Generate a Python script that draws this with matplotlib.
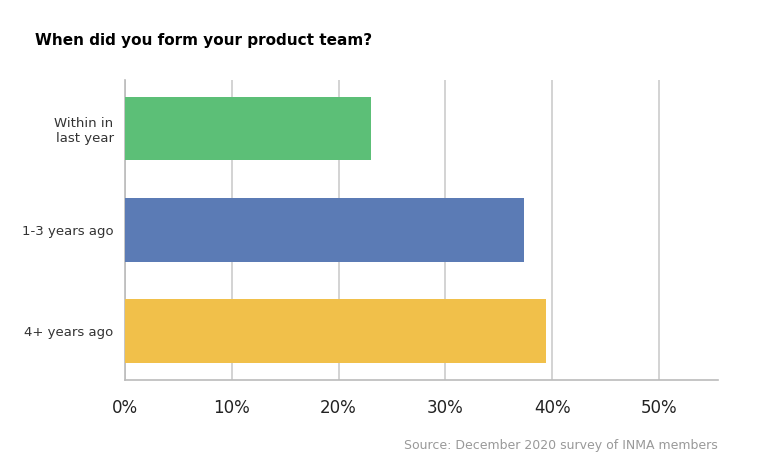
import matplotlib.pyplot as plt

# Data
categories = ['Within in\nlast year', '1-3 years ago', '4+ years ago']
values = [23.0, 37.3, 39.4]
colors = ['#5cbf77', '#5b7bb5', '#f1c04a']
tick_vals = [0, 10, 20, 30, 40, 50]

fig = plt.figure(figsize=(7.6, 4.75), dpi=100)
ax = fig.add_axes([0.164, 0.2, 0.781, 0.632])

ax.barh(range(len(categories)), values, height=0.63, color=colors, zorder=3)
ax.set_ylim(2.48, -0.48)
ax.set_xlim(0, 55.5)

ax.set_xticks(tick_vals)
ax.set_xticklabels([f'{v}%' for v in tick_vals], fontsize=12, color='#222222')
ax.set_yticks(range(len(categories)))
ax.set_yticklabels(categories, fontsize=9.5, color='#333333')
ax.tick_params(axis='x', length=0, pad=14)
ax.tick_params(axis='y', length=0, pad=8)
ax.grid(axis='x', color='#cccccc', linewidth=1.2, zorder=0)

for s in ['top', 'right']:
    ax.spines[s].set_visible(False)
ax.spines['left'].set_color('#bbbbbb')
ax.spines['bottom'].set_color('#bbbbbb')
ax.spines['left'].set_linewidth(1.2)
ax.spines['bottom'].set_linewidth(1.2)

fig.text(35 / 760, 1 - 40 / 475, 'When did you form your product team?',
         fontsize=11, fontweight='bold', va='center', ha='left')
fig.text(718 / 760, 1 - 445 / 475, 'Source: December 2020 survey of INMA members',
         fontsize=9, color='#999999', va='center', ha='right')

fig.savefig('out.png', dpi=100)
